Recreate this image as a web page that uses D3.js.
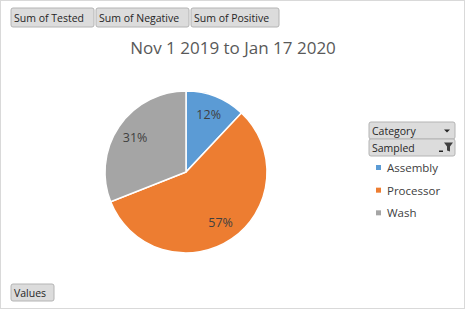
<!DOCTYPE html>
<html>
<head>
<meta charset="utf-8">
<script src="https://cdn.jsdelivr.net/npm/d3@7"></script>
<style>
  body { margin: 0; background: #fff; }
  text { font-family: "Open Sans", "Noto Sans", sans-serif; }
</style>
</head>
<body>
<div id="div_chart"></div>
<script>
// Chart data
var categories = ["Assembly", "Processor", "Wash"];
var values = [12, 57, 31];
var colors = ["#5b9bd5", "#ed7d31", "#a5a5a5"];
var fieldButtons = ["Sum of Tested", "Sum of Negative", "Sum of Positive"];
var title = "Nov 1 2019 to Jan 17 2020";

var svgWidth = 465, svgHeight = 309;

var svg = d3.select("#div_chart")
    .append("svg")
        .attr("width", svgWidth)
        .attr("height", svgHeight);

// Outer border
svg.append("rect")
    .attr("x", 0.5).attr("y", 0.5)
    .attr("width", svgWidth - 1).attr("height", svgHeight - 1)
    .attr("fill", "#fff").attr("stroke", "#d9d9d9");

// Pivot field buttons
function fieldButton(x, y, w, h, label, arrow) {
    var g = svg.append("g").attr("transform", "translate(" + x + "," + y + ")");
    g.append("rect")
        .attr("width", w).attr("height", h)
        .attr("rx", 2)
        .attr("fill", "#dcdcdc").attr("stroke", "#b4b4b4");
    g.append("text")
        .attr("x", 3).attr("y", h / 2 + 4)
        .attr("font-size", 10.5).attr("fill", "#262626")
        .text(label);
    if (arrow === "down") {
        g.append("path")
            .attr("d", "M" + (w - 11) + "," + (h / 2 - 1) + "l6,0l-3,3z")
            .attr("fill", "#262626");
    } else if (arrow === "filter") {
        g.append("path")
            .attr("d", "M" + (w - 11) + "," + (h / 2 - 5) + "l9,0l-3,4l0,5l-3,-1l0,-4z")
            .attr("fill", "#404040");
        g.append("rect").attr("x", w - 16).attr("y", h / 2 + 3).attr("width", 4).attr("height", 1.5).attr("fill", "#262626");
    }
}

var bx = [11, 96, 191], bw = [83, 93, 88];
fieldButtons.forEach(function (b, i) { fieldButton(bx[i], 8, bw[i], 19, b); });
fieldButton(11, 284, 43, 17, "Values");
fieldButton(369, 122, 86, 17, "Category", "down");
fieldButton(369, 139, 86, 17, "Sampled", "filter");

// Title
svg.append("text")
    .attr("x", 233).attr("y", 54)
    .attr("text-anchor", "middle")
    .attr("font-size", 17).attr("fill", "#595959")
    .text(title);

// Pie
var cx = 186, cy = 172, radius = 81;
var pie = d3.pie().sort(null).value(d => d);
var arc = d3.arc().innerRadius(0).outerRadius(radius);
var labelArc = d3.arc().innerRadius(radius * 0.76).outerRadius(radius * 0.76);
var color = d3.scaleOrdinal().domain(categories).range(colors);
var total = d3.sum(values);

var pg = svg.append("g").attr("transform", "translate(" + cx + "," + cy + ")");
var arcs = pie(values);
pg.selectAll("path")
    .data(arcs)
    .enter()
    .append("path")
    .attr("d", arc)
    .attr("fill", (d, i) => color(categories[i]))
    .attr("stroke", "#fff")
    .attr("stroke-width", 1.5);

pg.selectAll("text.lbl")
    .data(arcs)
    .enter()
    .append("text")
    .attr("class", "lbl")
    .attr("transform", d => "translate(" + labelArc.centroid(d) + ")")
    .attr("text-anchor", "middle")
    .attr("dy", "0.35em")
    .attr("font-size", 12.5).attr("fill", "#404040")
    .text(d => Math.round(d.value / total * 100) + "%");

// Legend
var legend = svg.append("g").attr("transform", "translate(376,168)");
var ly = d3.scaleBand().domain(categories).range([0, 68]);
var items = legend.selectAll("g")
    .data(categories)
    .enter()
    .append("g")
    .attr("transform", d => "translate(0," + ly(d) + ")");
items.append("rect")
    .attr("x", 0).attr("y", -3)
    .attr("width", 5).attr("height", 5)
    .attr("fill", d => color(d));
items.append("text")
    .attr("x", 11).attr("y", 4)
    .attr("font-size", 11.5).attr("fill", "#404040")
    .text(d => d);
</script>
</body>
</html>
